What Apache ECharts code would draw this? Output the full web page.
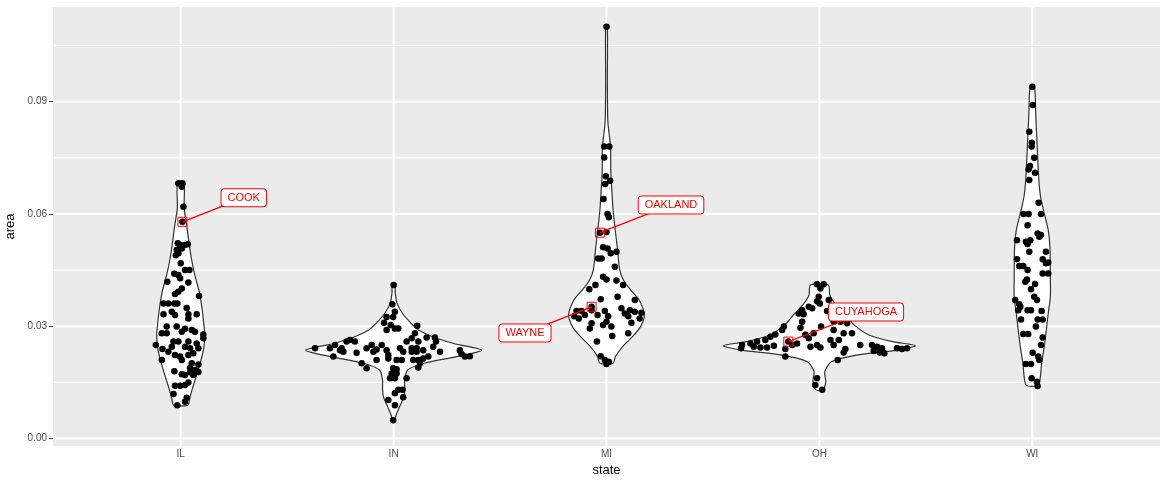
<!DOCTYPE html>
<html>
<head>
<meta charset="utf-8">
<style>
  html, body { margin: 0; padding: 0; background: #fff; }
  #chart { width: 1166px; height: 481px; }
</style>
<script src="https://cdn.jsdelivr.net/npm/echarts@6/dist/echarts.min.js"></script>
</head>
<body>
<div id="chart"></div>
<script>
// categories and tick labels
const states = ['IL', 'IN', 'MI', 'OH', 'WI'];
const yTicks = [0, 0.03, 0.06, 0.09];
const yMinor = [0.015, 0.045, 0.075, 0.105];

// violin outlines: [area, half width in category units], top to bottom
const violinIL = [[0.0686,0.015],[0.0615,0.016],[0.057,0.028],[0.0526,0.038],[0.0481,0.050],[0.0437,0.066],[0.0392,0.087],[0.0348,0.100],[0.0303,0.109],[0.0276,0.113],[0.0241,0.108],[0.0205,0.093],[0.017,0.075],[0.0134,0.055],[0.0107,0.042],[0.0089,0.033]];
const violinIN = [[0.0410,0.006],[0.0388,0.008],[0.0361,0.016],[0.0334,0.042],[0.0308,0.082],[0.0290,0.117],[0.0272,0.183],[0.0254,0.282],[0.0236,0.413],[0.0219,0.296],[0.0201,0.141],[0.0183,0.066],[0.0156,0.052],[0.0130,0.052],[0.0110,0.047],[0.0085,0.028],[0.0060,0.010],[0.0049,0.006]];
const violinMI = [[0.1100,0.004],[0.0950,0.004],[0.0851,0.006],[0.0815,0.012],[0.0780,0.019],[0.0717,0.020],[0.0664,0.025],[0.0610,0.031],[0.0557,0.041],[0.0504,0.052],[0.0450,0.062],[0.0423,0.080],[0.0397,0.113],[0.0370,0.153],[0.0330,0.178],[0.0299,0.160],[0.0272,0.122],[0.0245,0.075],[0.0219,0.042],[0.0201,0.031]];
const violinOH = [[0.0410,0.042],[0.0383,0.049],[0.0357,0.078],[0.0330,0.122],[0.0303,0.164],[0.0276,0.235],[0.0259,0.343],[0.0248,0.451],[0.0236,0.366],[0.0223,0.174],[0.0205,0.056],[0.0178,0.025],[0.0152,0.030],[0.0130,0.016]];
const violinWI = [[0.0940,0.010],[0.0869,0.016],[0.0780,0.023],[0.0690,0.031],[0.0646,0.039],[0.0602,0.056],[0.0557,0.075],[0.0512,0.083],[0.0423,0.085],[0.0379,0.085],[0.0334,0.075],[0.0290,0.066],[0.0245,0.056],[0.0201,0.044],[0.0143,0.029]];

// jittered points: [jitter, area]
const pointsIL = [[-0.011,0.0682],[0.008,0.0682],[0.005,0.0673],[0.0125,0.0619],[0.008,0.0579],[-0.014,0.0522],[-0.003,0.0517],[0.017,0.0517],[0.033,0.0519],[-0.019,0.0504],[0.005,0.0508],[-0.011,0.0495],[-0.023,0.0490],[0,0.0468],[0.020,0.0450],[0.041,0.0450],[-0.030,0.0440],[-0.011,0.0437],[-0.003,0.0428],[0.036,0.0417],[-0.063,0.0419],[0.005,0.0401],[-0.011,0.0392],[-0.027,0.0386],[0.086,0.0381],[-0.081,0.0361],[-0.058,0.0361],[-0.030,0.0361],[-0.016,0.0361],[0.028,0.0349],[-0.081,0.0332],[-0.042,0.0339],[-0.027,0.0330],[0.036,0.0332],[0.075,0.0332],[0.036,0.0321],[-0.066,0.0299],[-0.019,0.0299],[0.020,0.0293],[0.052,0.0290],[-0.089,0.0281],[-0.066,0.0281],[0.005,0.0285],[0.067,0.0285],[0.106,0.0278],[0.106,0.0268],[-0.034,0.0259],[-0.011,0.0259],[0.036,0.0259],[0.075,0.0254],[-0.117,0.0250],[-0.042,0.0245],[0.020,0.0245],[0.044,0.0241],[0.083,0.0241],[-0.086,0.0239],[-0.058,0.0232],[-0.027,0.0223],[-0.003,0.0219],[0.036,0.0223],[0.059,0.0228],[-0.089,0.0210],[0.005,0.0210],[0.052,0.0201],[0.083,0.0198],[0.044,0.0189],[0.067,0.0183],[0.044,0.0177],[0.005,0.0172],[0.083,0.0178],[0.059,0.0170],[0.020,0.0170],[-0.030,0.0180],[-0.027,0.0141],[-0.003,0.0141],[0.020,0.0143],[0.036,0.0150],[-0.034,0.0119],[0.028,0.0109],[-0.016,0.0089],[0.020,0.0098]];
const pointsIN = [[0,0.0410],[-0.006,0.0359],[0.006,0.0339],[-0.033,0.0325],[-0.002,0.0325],[-0.045,0.0309],[-0.014,0.0303],[0.006,0.0294],[0.022,0.0294],[-0.033,0.0290],[0.111,0.0301],[0.100,0.0281],[0.085,0.0268],[0.116,0.0259],[0.155,0.0270],[0.194,0.0270],[0.199,0.0259],[0.061,0.0259],[-0.205,0.0263],[-0.221,0.0259],[-0.182,0.0259],[-0.275,0.0250],[-0.369,0.0241],[-0.299,0.0241],[-0.252,0.0236],[-0.236,0.0232],[-0.244,0.0241],[-0.174,0.0229],[-0.127,0.0241],[-0.103,0.0250],[-0.080,0.0238],[-0.056,0.0250],[-0.033,0.0236],[-0.095,0.0232],[-0.025,0.0223],[-0.025,0.0214],[0.014,0.0210],[0.038,0.0210],[-0.283,0.0219],[-0.150,0.0201],[-0.080,0.0210],[-0.127,0.0188],[0.030,0.0241],[0.045,0.0232],[0.085,0.0241],[0.108,0.0241],[0.085,0.0232],[0.108,0.0232],[0.139,0.0236],[0.186,0.0245],[0.218,0.0232],[0.163,0.0219],[0.139,0.0214],[0.116,0.0210],[0.092,0.0210],[0.124,0.0201],[0.116,0.0190],[0.311,0.0236],[0.319,0.0226],[0.335,0.0219],[0.358,0.0220],[-0.002,0.0188],[0.014,0.0185],[-0.009,0.0174],[0.014,0.0174],[-0.017,0.0161],[0.006,0.0161],[0.061,0.0161],[0.022,0.0130],[0.042,0.0130],[0.006,0.0121],[0.045,0.0110],[-0.025,0.0103],[0.006,0.0089],[-0.002,0.0049]];
const pointsMI = [[0,0.1100],[-0.011,0.0780],[0.013,0.0780],[-0.011,0.0751],[-0.003,0.0701],[0.017,0.0689],[-0.006,0.0680],[-0.014,0.0640],[0.005,0.0600],[0.011,0.0591],[-0.031,0.0550],[0,0.0552],[-0.016,0.0511],[0.005,0.0508],[0.020,0.0495],[0.047,0.0499],[-0.039,0.0481],[-0.023,0.0481],[0.039,0.0459],[-0.016,0.0432],[0,0.0425],[0.047,0.0422],[0.078,0.0410],[-0.052,0.0410],[-0.081,0.0399],[-0.027,0.0372],[0.052,0.0379],[0.133,0.0370],[-0.070,0.0352],[-0.141,0.0341],[-0.117,0.0341],[-0.152,0.0327],[-0.130,0.0321],[-0.102,0.0330],[-0.070,0.0343],[-0.042,0.0330],[-0.008,0.0341],[0.008,0.0327],[0,0.0312],[0.070,0.0348],[0.086,0.0334],[0.110,0.0343],[0.133,0.0339],[0.164,0.0336],[0.102,0.0327],[0.156,0.0321],[0.117,0.0309],[-0.070,0.0308],[-0.078,0.0294],[-0.016,0.0303],[0.023,0.0299],[0.027,0.0274],[0.102,0.0281],[-0.045,0.0259],[-0.027,0.0220],[-0.008,0.0210],[0,0.0199],[0.011,0.0205]];
const pointsOH = [[-0.011,0.0412],[0.020,0.0412],[0.005,0.0401],[-0.003,0.0379],[-0.011,0.0367],[0.044,0.0370],[0.002,0.0361],[-0.050,0.0352],[-0.034,0.0348],[-0.081,0.0343],[-0.097,0.0334],[-0.074,0.0332],[0.036,0.0341],[-0.081,0.0312],[-0.089,0.0296],[0.008,0.0299],[0.067,0.0312],[0.099,0.0312],[0.130,0.0308],[-0.167,0.0299],[-0.175,0.0290],[-0.207,0.0278],[-0.230,0.0272],[-0.254,0.0263],[-0.293,0.0259],[-0.324,0.0254],[-0.363,0.0250],[-0.368,0.0241],[-0.308,0.0245],[-0.277,0.0243],[-0.246,0.0243],[-0.214,0.0248],[-0.160,0.0239],[-0.128,0.0250],[-0.105,0.0254],[-0.066,0.0277],[-0.050,0.0268],[-0.027,0.0281],[-0.146,0.0259],[-0.042,0.0245],[-0.011,0.0250],[0.005,0.0243],[-0.160,0.0219],[0.067,0.0290],[0.114,0.0281],[0.153,0.0281],[0.052,0.0263],[0.091,0.0263],[0.067,0.0250],[0.122,0.0239],[0.114,0.0230],[0.192,0.0250],[0.086,0.0210],[0.247,0.0250],[0.271,0.0245],[0.294,0.0241],[0.255,0.0234],[0.283,0.0230],[0.305,0.0228],[0.365,0.0241],[0.388,0.0239],[0.412,0.0241],[-0.011,0.0161],[-0.019,0.0143],[0.013,0.0130]];
const pointsWI = [[0,0.0940],[0.002,0.0891],[-0.014,0.0820],[-0.002,0.0790],[-0.003,0.0780],[0.009,0.0750],[-0.011,0.0728],[-0.017,0.0719],[0.013,0.0710],[-0.014,0.0691],[0.030,0.0630],[-0.041,0.0600],[-0.017,0.0600],[0.041,0.0600],[-0.022,0.0570],[0.025,0.0548],[0.041,0.0544],[0.033,0.0539],[-0.072,0.0530],[-0.030,0.0526],[-0.009,0.0530],[-0.022,0.0520],[-0.014,0.0499],[0.064,0.0499],[-0.072,0.0479],[0.049,0.0479],[0.075,0.0470],[0.064,0.0468],[-0.061,0.0461],[-0.042,0.0461],[-0.022,0.0450],[0.049,0.0441],[0.075,0.0441],[-0.025,0.0425],[-0.033,0.0419],[0.013,0.0413],[-0.006,0.0399],[0.009,0.0379],[0.022,0.0370],[-0.080,0.0370],[-0.061,0.0359],[-0.066,0.0343],[-0.056,0.0352],[-0.022,0.0343],[-0.006,0.0343],[0.044,0.0341],[-0.053,0.0318],[0.025,0.0318],[0.049,0.0318],[0.017,0.0299],[-0.042,0.0279],[-0.019,0.0279],[0.049,0.0270],[0.041,0.0250],[0.002,0.0229],[0.028,0.0219],[0.033,0.0210],[-0.030,0.0199],[-0.006,0.0199],[-0.003,0.0161],[0.022,0.0152],[0.025,0.0140]];

// labelled counties
const labelNames = ['COOK', 'OAKLAND', 'WAYNE', 'CUYAHOGA'];
const labelPoints = [[1.008, 0.0579], [2.969, 0.0550], [2.930, 0.0352], [3.854, 0.0259]];
const labelSpots = [[1.296, 0.0643], [3.303, 0.0624], [2.617, 0.0282], [4.219, 0.0338]];

const violins = [violinIL, violinIN, violinMI, violinOH, violinWI];
const pointSets = [pointsIL, pointsIN, pointsMI, pointsOH, pointsWI];

let scatterData = [];
pointSets.forEach(function (set, i) {
  set.forEach(function (p) { scatterData.push([i + 1 + p[0], p[1]]); });
});

const FONT = '"Liberation Sans", Arial, sans-serif';

let myChart = echarts.init(document.getElementById('chart'));

function hLines(width) {
  return function (params, api) {
    let cs = params.coordSys;
    let y = api.coord([1, api.value(0)])[1];
    return {
      type: 'line',
      shape: { x1: cs.x, y1: y, x2: cs.x + cs.width, y2: y },
      style: { stroke: '#ffffff', lineWidth: width }
    };
  };
}

let option = {
  animation: false,
  grid: {
    left: 53, right: 6, top: 7, bottom: 35,
    outerBoundsMode: 'none', containLabel: false,
    show: true, backgroundColor: '#EBEBEB', borderWidth: 0
  },
  xAxis: {
    type: 'value', min: 0.4, max: 5.6,
    name: 'state', nameLocation: 'middle', nameGap: 11,
    nameTextStyle: { color: '#000', fontSize: 13, fontFamily: FONT },
    axisLine: { show: false },
    splitLine: { show: false },
    axisTick: { show: true, length: 4, customValues: [1, 2, 3, 4, 5], lineStyle: { color: '#333333' } },
    axisLabel: {
      customValues: [1, 2, 3, 4, 5], margin: 3, color: '#4D4D4D', fontSize: 10, fontFamily: FONT,
      formatter: function (v) { return states[Math.round(v) - 1]; }
    }
  },
  yAxis: {
    type: 'value', min: -0.002, max: 0.1153,
    name: 'area', nameLocation: 'middle', nameGap: 31,
    nameTextStyle: { color: '#000', fontSize: 13, fontFamily: FONT },
    axisLine: { show: false },
    splitLine: { show: false },
    axisTick: { show: true, length: 4, customValues: yTicks, lineStyle: { color: '#333333' } },
    axisLabel: {
      customValues: yTicks, margin: 6, color: '#4D4D4D', fontSize: 10, fontFamily: FONT,
      formatter: function (v) { return v.toFixed(2); }
    }
  },
  series: [
    {
      type: 'custom', z: 1, silent: true,
      renderItem: hLines(1),
      data: yMinor.map(function (v) { return [v]; }),
      encode: { y: 0 }
    },
    {
      type: 'custom', z: 1, silent: true,
      renderItem: hLines(2),
      data: yTicks.map(function (v) { return [v]; }),
      encode: { y: 0 }
    },
    {
      type: 'custom', z: 1, silent: true,
      renderItem: function (params, api) {
        let cs = params.coordSys;
        let x = api.coord([api.value(0), 0])[0];
        return {
          type: 'line',
          shape: { x1: x, y1: cs.y, x2: x, y2: cs.y + cs.height },
          style: { stroke: '#ffffff', lineWidth: 2 }
        };
      },
      data: states.map(function (s, i) { return [i + 1]; }),
      encode: { x: 0 }
    },
    {
      type: 'custom', z: 2, silent: true,
      renderItem: function (params, api) {
        let c = api.value(0);
        let outline = violins[params.dataIndex];
        let pts = [];
        outline.forEach(function (o) { pts.push(api.coord([c + o[1], o[0]])); });
        for (let k = outline.length - 1; k >= 0; k--) {
          pts.push(api.coord([c - outline[k][1], outline[k][0]]));
        }
        return {
          type: 'polygon',
          shape: { points: pts, smooth: 0.25 },
          style: { fill: '#ffffff', stroke: '#333333', lineWidth: 1.2 }
        };
      },
      data: states.map(function (s, i) { return [i + 1, 0.03]; }),
      encode: { x: 0, y: 1 }
    },
    {
      type: 'scatter', z: 3, silent: true,
      symbolSize: 6.5,
      itemStyle: { color: '#000000', opacity: 1 },
      data: scatterData
    },
    {
      type: 'custom', z: 4, silent: true,
      renderItem: function (params, api) {
        let i = params.dataIndex;
        let p = api.coord([api.value(0), api.value(1)]);
        let l = api.coord([api.value(2), api.value(3)]);
        return {
          type: 'group',
          children: [
            { type: 'line', shape: { x1: p[0], y1: p[1], x2: l[0], y2: l[1] },
              style: { stroke: '#FF0000', lineWidth: 1.3 } },
            { type: 'rect', shape: { x: p[0] - 4.5, y: p[1] - 4.5, width: 9, height: 9 },
              style: { fill: null, stroke: '#FF0000', lineWidth: 1 } },
            { type: 'text', x: l[0], y: l[1],
              style: {
                text: labelNames[i], fill: '#FF0000', fontSize: 11, fontFamily: FONT,
                align: 'center', verticalAlign: 'middle',
                backgroundColor: '#ffffff', borderColor: '#FF0000', borderWidth: 1,
                borderRadius: 3, padding: [3, 6]
              } }
          ]
        };
      },
      data: labelNames.map(function (n, i) {
        return [labelPoints[i][0], labelPoints[i][1], labelSpots[i][0], labelSpots[i][1]];
      }),
      encode: { x: [0, 2], y: [1, 3] }
    }
  ]
};
myChart.setOption(option);
window.addEventListener('resize', function () { myChart.resize(); });
</script>
</body>
</html>
